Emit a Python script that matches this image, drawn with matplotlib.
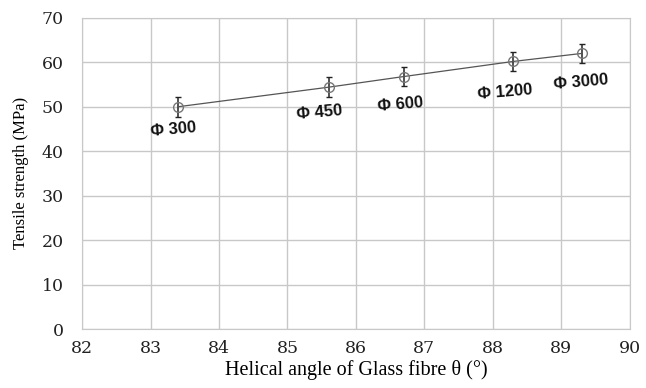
import matplotlib.pyplot as plt

angle = [83.4, 85.6, 86.7, 88.3, 89.3]
strength = [50, 54.4, 56.8, 60.2, 62]
err = [2.2, 2.2, 2.2, 2.2, 2.2]
labels = ["Φ 300", "Φ 450", "Φ 600", "Φ 1200", "Φ 3000"]
label_x = [83.34, 85.47, 86.65, 88.17, 89.29]
label_y = [44.8, 48.6, 50.5, 53.2, 55.5]

fig = plt.figure(figsize=(6.46, 3.88), dpi=100)
ax = fig.add_axes([0.127, 0.152, 0.848, 0.802])

ax.errorbar(angle, strength, yerr=err, fmt="o-", color="#555555", lw=0.9,
            mfc="none", mec="#777777", ms=7, ecolor="#222222", elinewidth=1.1,
            capsize=2, zorder=3)

for x, y, t in zip(label_x, label_y, labels):
    ax.text(x, y, t, ha="center", va="center", fontsize=12, fontweight="bold",
            rotation=5, family="Liberation Sans", color="#111111")

ax.set_xlim(82, 90)
ax.set_ylim(0, 70)
ax.set_xticks(range(82, 91))
ax.set_yticks(range(0, 71, 10))
ax.grid(color="#c8c8c8", lw=1)
ax.set_axisbelow(True)
for s in ax.spines.values():
    s.set_color("#c8c8c8")
ax.tick_params(length=0, labelsize=12.5, colors="#222222")
ax.tick_params(axis="x", pad=8)
ax.tick_params(axis="y", pad=13)
for lab in ax.get_xticklabels() + ax.get_yticklabels():
    lab.set_family("DejaVu Serif")

ax.set_xlabel("Helical angle of Glass fibre θ (°)", family="Liberation Serif",
              fontsize=14.5, labelpad=2)
ax.set_ylabel("Tensile strength (MPa)", family="Liberation Serif",
              fontsize=12, labelpad=9)

fig.savefig("out.png", dpi=100)
